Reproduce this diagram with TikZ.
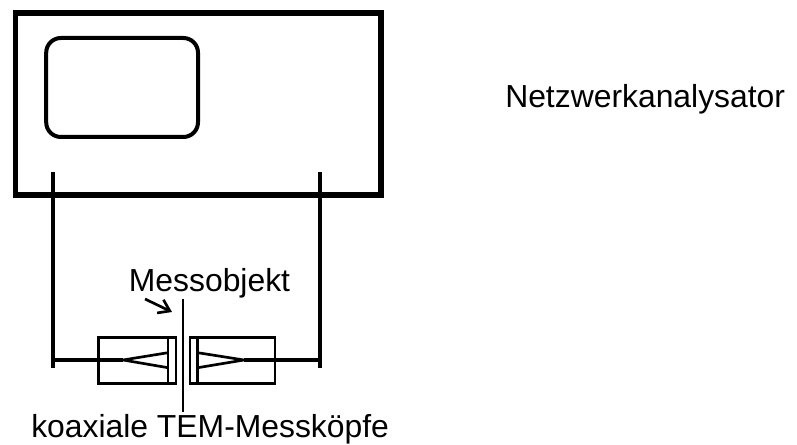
\documentclass[tikz,border=0pt]{standalone}
\usepackage{fontspec}
\setmainfont{Liberation Sans}
\usetikzlibrary{arrows.meta,calc,positioning}
\begin{document}
\begin{tikzpicture}[x=0.75pt,y=-0.75pt,>={Straight Barb[length=8pt,width=11pt]},
  frame/.style={line width=4.4pt},
  screen/.style={line width=3pt,rounded corners=11pt},
  wire/.style={line width=3pt},
  probe/.style={line width=2pt},
  lbl/.style={inner sep=0pt,font=\fontsize{23.9pt}{26pt}\selectfont}]
\useasboundingbox (0,0) rectangle (797,445);
\draw[frame] (15.5,12.7) rectangle (380.7,195.3);
\draw[screen] (46.2,38) rectangle (198,137);
\coordinate (PL) at (53.3,172);
\coordinate (PR) at (320,172);
\coordinate (EL) at (53.3,368);
\coordinate (ER) at (320,368);
\coordinate (WL) at (53.3,360);
\coordinate (WR) at (320,360);
\coordinate (TL) at (123,360);
\coordinate (TR) at (244,360);
\draw[wire] (PL)--(EL);
\draw[wire] (PR)--(ER);
\draw[wire] (WL)--(TL);
\draw[wire] (WR)--(TR);
\draw[probe] (98.7,337.3) rectangle (176,383.7);
\draw[probe] (190,337.3) rectangle (275,383.7);
\draw[probe] (168,337.3)--(168,383.7);
\draw[probe] (197.7,337.3)--(197.7,383.7);
\draw[probe] (168,352.7)--(TL)--(168,367.7);
\draw[probe] (197.7,352.7)--(TR)--(197.7,367.7);
\coordinate (OT) at (183,299);
\coordinate (OB) at (183,412);
\draw[probe] (OT)--(OB);
\node[lbl,anchor=base] (Obj) at (209.5,292) {Messobjekt};
\coordinate (AS) at (145,299);
\coordinate (AE) at (172,312);
\draw[probe,->] (AS)--(AE);
\node[lbl,anchor=base west] (Kopf) at (31,438) {koaxiale TEM-Messköpfe};
\node[lbl,anchor=base west] (NWA) at (505,108) {Netzwerkanalysator};
\end{tikzpicture}
\end{document}
